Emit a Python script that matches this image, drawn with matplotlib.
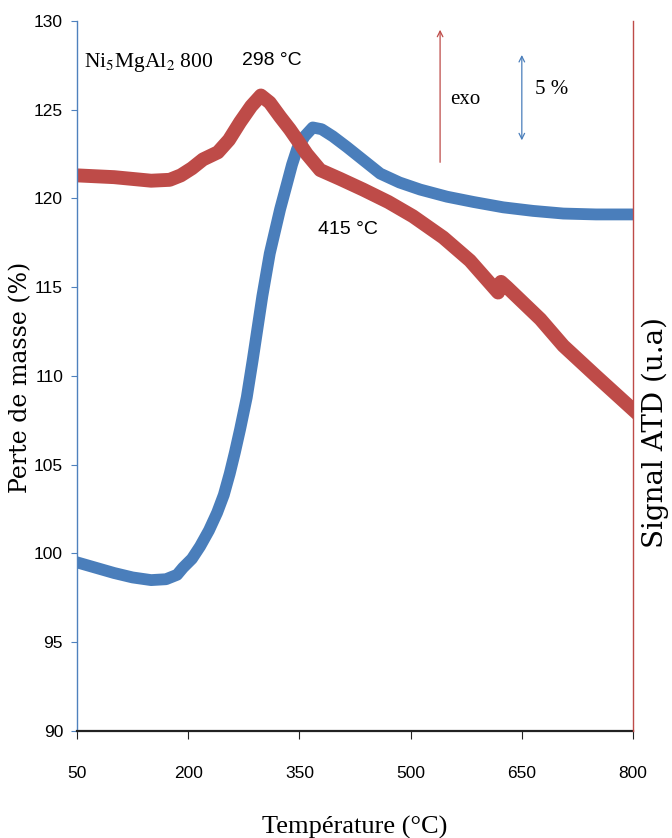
import numpy as np
from matplotlib import pyplot as plt

# ATD / ATG curves, Ni5MgAl2 800

blue_T = [50, 75, 100, 125, 150, 170, 185, 193, 205, 216, 228, 239, 248, 256, 263, 270,
          279, 287, 300, 310, 324, 333, 340, 347, 357, 368, 380, 395, 414, 435, 459, 485,
          513, 549, 585, 625, 665, 706, 750, 800]
blue_val = [99.5, 99.2, 98.9, 98.65, 98.5, 98.55, 98.8, 99.2, 99.7, 100.4, 101.3, 102.3,
            103.3, 104.5, 105.7, 107.0, 108.8, 110.9, 114.5, 116.9, 119.4, 120.8, 121.9,
            122.8, 123.5, 124.0, 123.9, 123.5, 122.9, 122.2, 121.4, 120.9, 120.5, 120.1,
            119.8, 119.5, 119.3, 119.15, 119.1, 119.1]

red_T = [50, 100, 150, 175, 190, 205, 220, 240, 255, 270, 285, 298, 310, 324, 337, 347,
         360, 378, 405, 436, 470, 503, 544, 580, 618, 622, 630, 675, 706, 750, 800]
red_val = [121.3, 121.2, 121.0, 121.05, 121.3, 121.7, 122.2, 122.6, 123.3, 124.3, 125.2,
           125.8, 125.4, 124.6, 123.9, 123.3, 122.5, 121.6, 121.1, 120.5, 119.8, 119.0,
           117.8, 116.5, 114.7, 115.3, 115.0, 113.2, 111.7, 110.0, 108.1]

xticks = [50, 200, 350, 500, 650, 800]
yticks = [90, 95, 100, 105, 110, 115, 120, 125, 130]

c_blue = '#4A7EBB'
c_red = '#BE4B48'
sans = ['Liberation Sans', 'DejaVu Sans']
serif = ['Liberation Serif', 'DejaVu Serif']

fig = plt.figure(figsize=(6.72, 8.38), dpi=100)
ax = fig.add_axes([0.1146, 0.1277, 0.8274, 0.8473])

ax.plot(blue_T, blue_val, color=c_blue, lw=8.5, solid_joinstyle='round')
ax.plot(red_T, red_val, color=c_red, lw=10, solid_joinstyle='round')

ax.set_xlim(50, 800)
ax.set_ylim(90, 130)
ax.set_xticks(xticks)
ax.set_yticks(yticks)
ax.set_xticklabels([str(t) for t in xticks], family=sans, fontsize=12.5)
ax.set_yticklabels([str(t) for t in yticks], family=sans, fontsize=12.5)

ax.spines['top'].set_visible(False)
ax.spines['right'].set_visible(False)
ax.spines['left'].set_color('#4F81BD')
ax.spines['left'].set_linewidth(1)
ax.spines['bottom'].set_color('#222222')
ax.spines['bottom'].set_linewidth(1.6)
ax.tick_params(axis='y', direction='out', length=4, color='#4F81BD', pad=6)
ax.tick_params(axis='x', direction='out', length=6, color='#222222', pad=19)

ax.set_xlabel('Température (°C)', family=serif, fontsize=19)
ax.xaxis.set_label_coords(0.5, -0.12)

ax2 = ax.twinx()
ax2.set_position(ax.get_position())
ax2.set_yticks([])
for s in ['top', 'left', 'bottom']:
	ax2.spines[s].set_visible(False)
ax2.spines['right'].set_color(c_red)
ax2.spines['right'].set_linewidth(1)

# axis titles placed in figure coords
fig.text(21/672, 1-377/838, 'Perte de masse (%)', family=['DejaVu Serif'], fontsize=17,
	rotation=90, ha='center', va='center')
fig.text(655/672, 1-432/838, 'Signal ATD (u.a)', family=['DejaVu Serif'], fontsize=20,
	rotation=90, ha='center', va='center')

# annotations
ax.text(0.012, 0.942, r'Ni$_5$MgAl$_2$ 800', transform=ax.transAxes, fontsize=15.5,
	family=serif, ha='left', va='center', math_fontfamily='stix')
ax.text(0.351, 0.945, '298 °C', transform=ax.transAxes, fontsize=14, family=sans,
	ha='center', va='center')
ax.text(0.487, 0.706, '415 °C', transform=ax.transAxes, fontsize=14, family=sans,
	ha='center', va='center')
ax.text(0.698, 0.889, 'exo', transform=ax.transAxes, fontsize=15, family=serif,
	ha='center', va='center')
ax.text(0.854, 0.903, '5 %', transform=ax.transAxes, fontsize=15, family=serif,
	ha='center', va='center')
ax.annotate('', xy=(0.653, 0.9915), xytext=(0.653, 0.797), xycoords='axes fraction',
	arrowprops=dict(arrowstyle='->', color=c_red, lw=0.9))
ax.annotate('', xy=(0.800, 0.956), xytext=(0.800, 0.828), xycoords='axes fraction',
	arrowprops=dict(arrowstyle='<->', color=c_blue, lw=0.9))

fig.savefig('out.png', dpi=100)
